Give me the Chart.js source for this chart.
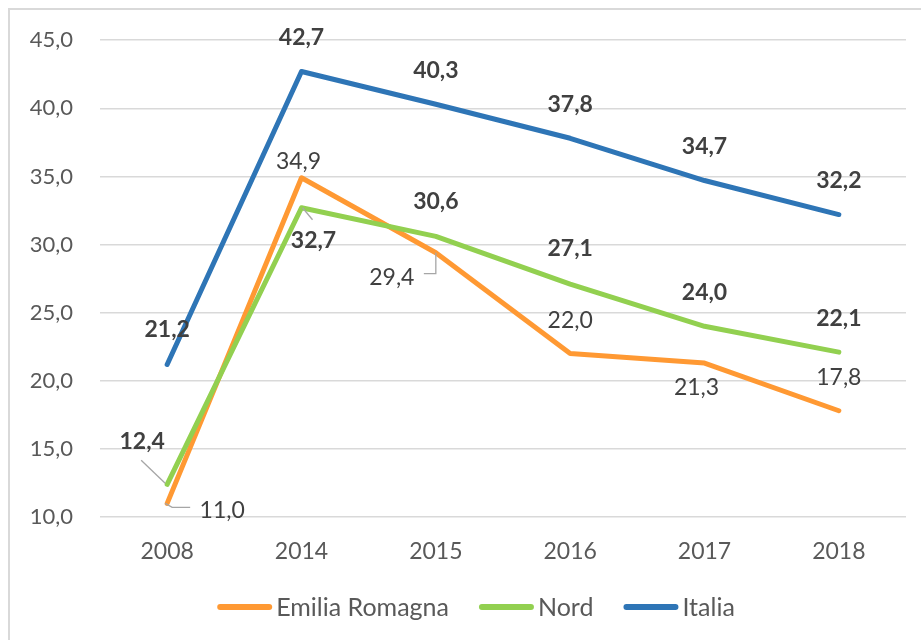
<!DOCTYPE html>
<html>
<head>
<meta charset="utf-8">
<script src="https://cdn.jsdelivr.net/npm/chart.js@4.4.0/dist/chart.umd.min.js"></script>
<style>
html,body{margin:0;padding:0;background:#fff;}
#wrap{width:921px;height:640px;position:relative;}
</style>
</head>
<body>
<div id="wrap"><canvas id="c" width="921" height="640"></canvas></div>
<script>
const categories = ['2008','2014','2015','2016','2017','2018'];
const seriesNames = ['Emilia Romagna','Nord','Italia'];
const emiliaRomagna = [11.0, 34.9, 29.4, 22.0, 21.3, 17.8];
const nord = [12.4, 32.7, 30.6, 27.1, 24.0, 22.1];
const italia = [21.2, 42.7, 40.3, 37.8, 34.7, 32.2];
const yTicks = [10, 15, 20, 25, 30, 35, 40, 45];

const colors = ['#FF9933', '#92D050', '#2E75B6'];
const FONT = 'Lato, "Open Sans", sans-serif';

// label placement (offsets from the point, in px) and leader lines
const labelStyle = [
  { bold:false, off:[[55,7],[-3,-16],[-44,25],[0,-33],[-8,25],[0,-33]],
    leaders:{0:[[-2,0],[5,4],[23,4]], 2:[[0,0],[0,21],[-12,21]]} },
  { bold:true, off:[[-25,-43],[12,33],[0,-35],[0,-35],[0,-34],[0,-34]],
    leaders:{0:[[-26,-24],[-2,-1]], 1:[[1,0],[11,12]]} },
  { bold:true, off:[[0,-35],[0,-34],[0,-34],[0,-34],[0,-34],[0,-34]], leaders:{} }
];

const fmt = v => v.toFixed(1).replace('.', ',');

const bgPlugin = {
  id:'bg',
  beforeDraw(chart){
    const ctx = chart.ctx;
    ctx.save();
    ctx.fillStyle = '#fff';
    ctx.fillRect(0,0,chart.width,chart.height);
    ctx.strokeStyle = '#d9d9d9';
    ctx.lineWidth = 2;
    ctx.beginPath();
    ctx.moveTo(9, chart.height);
    ctx.lineTo(9, 9);
    ctx.lineTo(chart.width, 9);
    ctx.stroke();
    ctx.restore();
  }
};

const labelPlugin = {
  id:'labels',
  afterDatasetsDraw(chart){
    const ctx = chart.ctx;
    ctx.save();
    chart.data.datasets.forEach((ds, di) => {
      const meta = chart.getDatasetMeta(di);
      const st = labelStyle[di];
      meta.data.forEach((pt, i) => {
        const lead = st.leaders[i];
        if (lead) {
          ctx.strokeStyle = '#a6a6a6';
          ctx.lineWidth = 1.3;
          ctx.beginPath();
          lead.forEach((p, k) => {
            if (k === 0) ctx.moveTo(pt.x + p[0], pt.y + p[1]);
            else ctx.lineTo(pt.x + p[0], pt.y + p[1]);
          });
          ctx.stroke();
        }
      });
    });
    chart.data.datasets.forEach((ds, di) => {
      const meta = chart.getDatasetMeta(di);
      const st = labelStyle[di];
      ctx.font = (st.bold ? 'bold ' : '') + '23px ' + FONT;
      ctx.fillStyle = '#404040';
      ctx.textAlign = 'center';
      ctx.textBaseline = 'middle';
      meta.data.forEach((pt, i) => {
        const o = st.off[i];
        ctx.fillText(fmt(ds.data[i]), pt.x + o[0], pt.y + o[1]);
      });
    });
    ctx.restore();
  }
};

// legend drawn as line swatches + text, centred under the plot
const legendPlugin = {
  id:'customLegend',
  afterDraw(chart){
    const ctx = chart.ctx;
    const sw = 55, gap = 4, spacing = 30, y = 607;
    ctx.save();
    ctx.font = '25px ' + FONT;
    ctx.textBaseline = 'middle';
    ctx.textAlign = 'left';
    const items = chart.data.datasets.map(ds => ({ text: ds.label, color: ds.borderColor, w: ctx.measureText(ds.label).width }));
    const total = items.reduce((s, it) => s + sw + gap + it.w, 0) + spacing * (items.length - 1);
    let x = 476 - total / 2;
    items.forEach(it => {
      ctx.strokeStyle = it.color;
      ctx.lineWidth = 6;
      ctx.lineCap = 'round';
      ctx.beginPath();
      ctx.moveTo(x + 3, y);
      ctx.lineTo(x + sw - 3, y);
      ctx.stroke();
      x += sw + gap;
      ctx.fillStyle = '#595959';
      ctx.fillText(it.text, x, y + 1);
      x += it.w + spacing;
    });
    ctx.restore();
  }
};

const seriesData = [emiliaRomagna, nord, italia];
const datasets = seriesNames.map((name, i) => ({
  label: name,
  data: seriesData[i],
  borderColor: colors[i],
  backgroundColor: colors[i],
  borderWidth: 5,
  borderCapStyle: 'round',
  borderJoinStyle: 'round',
  pointRadius: 0,
  pointHoverRadius: 0,
  tension: 0,
  fill: false,
  order: 2 - i
}));

new Chart(document.getElementById('c'), {
  type: 'line',
  data: { labels: categories, datasets },
  options: {
    responsive: false,
    animation: false,
    devicePixelRatio: 1,
    layout: { padding: { top: 40, right: 15, left: 0, bottom: 54 } },
    plugins: {
      tooltip: { enabled: false },
      legend: { display: false }
    },
    scales: {
      x: {
        offset: true,
        grid: { display: false, drawTicks: false },
        border: { display: false },
        ticks: { font: { family: FONT, size: 23 }, color: '#595959', padding: 21, maxRotation: 0 },
        afterFit(scale) { scale.height = 69; }
      },
      y: {
        min: 10, max: 45,
        afterBuildTicks(scale) { scale.ticks = yTicks.map(v => ({ value: v })); },
        grid: { color: '#d9d9d9', lineWidth: 1.5, drawTicks: false },
        border: { display: false },
        ticks: { font: { family: FONT, size: 22 }, color: '#595959', padding: 27,
                 callback: v => fmt(v) },
        afterFit(scale) { scale.width = 100; }
      }
    }
  },
  plugins: [bgPlugin, labelPlugin, legendPlugin]
});
</script>
</body>
</html>
